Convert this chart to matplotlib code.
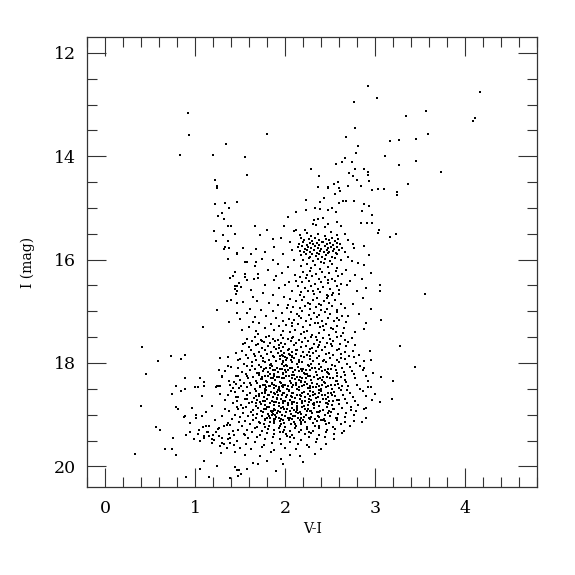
import matplotlib
matplotlib.use("Agg")
import matplotlib.pyplot as plt
from matplotlib.ticker import MultipleLocator
import numpy as np

# ---------------- data ----------------
bright_stars = [
    (0.92,13.17),(0.93,13.59),(1.34,13.77),(0.83,13.97),(1.20,13.97),(1.22,14.46),(1.24,14.58),
    (2.92,12.65),(3.02,12.87),(2.76,12.96),(2.78,13.45),(1.80,13.57),(2.68,13.62),(2.81,13.81),
    (2.79,13.94),(3.11,13.99),(1.55,14.01),(2.67,14.04),(2.63,14.11),(2.74,14.11),(2.56,14.15),
    (2.29,14.25),(2.78,14.24),(2.88,14.25),(2.92,14.30),(2.71,14.33),(2.75,14.38),(1.57,14.36),
    (2.37,14.39),(2.92,14.37),(2.80,14.46),(2.93,14.48),(2.59,14.50),(2.54,14.53),(2.70,14.57),
    (2.84,14.57),(2.47,14.59),(2.36,14.59),
    (4.17,12.76),(3.56,13.13),(3.34,13.22),(4.11,13.26),(4.09,13.31),(3.59,13.57),(3.45,13.66),
    (3.26,13.68),(3.16,13.71),(3.45,14.09),(3.27,14.17),(3.73,14.30),(3.36,14.53),(3.24,14.69),
    (3.24,14.75),(3.23,15.51),(3.16,15.56),(3.55,16.67),(3.28,17.67),(3.44,18.07),(3.20,18.35),
    (3.19,18.70),(3.05,16.49),(3.05,16.60),(3.07,17.16),(2.90,17.22),
]

blue_plume = [
    (1.24,14.61),(1.22,14.92),(1.33,14.90),(1.46,14.89),(1.37,15.01),(1.30,15.09),(1.25,15.16),
    (1.32,15.22),(1.36,15.34),(1.40,15.34),(1.21,15.44),(1.31,15.53),(1.44,15.50),(1.23,15.64),
    (1.36,15.64),(1.33,15.75),(1.37,15.77),(1.32,15.80),(1.46,15.87),(1.46,15.90),(1.36,15.98),
    (1.44,16.24),(1.42,16.31),(1.39,16.35),(1.44,16.51),(1.46,16.51),(1.44,16.57),(1.46,16.61),
    (1.45,16.67),(1.40,16.78),(1.35,16.81),(1.46,16.84),(1.24,16.98),(1.46,17.03),(1.37,17.20),
    (1.09,17.31),
    (1.53,15.78),(1.55,16.04),(1.57,16.05),(1.66,16.12),(1.55,16.28),(1.55,16.33),(1.65,16.37),
    (1.70,16.28),(1.49,16.46),(1.51,16.53),(1.62,16.59),(1.53,16.82),(1.64,16.72),(1.58,17.04),
    (1.50,17.14),(1.66,17.11),(1.60,17.30),(1.52,17.37),(1.70,17.43),
]

giant_branch = [
    (2.36,14.60),(2.47,14.62),(2.60,14.61),(2.55,14.73),(2.61,14.67),(2.96,14.66),(3.03,14.63),
    (3.10,14.63),(2.23,14.85),(2.39,14.89),(2.43,14.80),(2.60,14.91),(2.64,14.87),(2.68,14.87),
    (2.77,14.87),(2.33,15.01),(2.39,15.02),(2.47,15.04),(2.52,15.01),(2.56,15.08),(2.23,15.04),
    (2.12,15.08),(2.03,15.18),(2.88,14.93),(2.93,14.96),(2.85,15.06),(2.97,15.14),(1.66,15.35),
    (1.99,15.35),(2.32,15.24),(2.36,15.22),(2.42,15.20),(2.31,15.31),(2.34,15.33),(2.44,15.37),
    (2.47,15.31),(2.57,15.28),(2.62,15.35),(2.84,15.29),(2.91,15.30),(2.96,15.30),(3.04,15.43),
    (3.03,15.48),(1.86,15.60),(1.67,15.79),(1.78,15.86),(1.86,16.00),(2.70,15.62),(2.75,15.70),
    (2.77,15.78),(2.88,15.74),(2.81,16.06),(2.88,16.11),(2.95,16.26),(2.12,15.43),(2.22,15.42),
    (2.66,15.85),(2.70,15.95),(2.74,16.02),(2.68,16.20),(2.78,16.30),(2.72,16.42),(2.85,16.38),
    (2.90,16.55),(2.80,16.60),(2.69,16.50),(2.93,15.92),(2.86,16.75),(2.75,16.85),(2.95,16.95),
    (2.82,17.05),(2.70,17.10),(2.88,17.35),(2.78,17.40),
    (1.72,15.52),(1.95,15.58),(2.05,15.65),(1.88,15.75),(2.08,15.82),(1.98,15.90),(1.74,15.98),
    (2.10,16.00),(1.92,16.08),(2.03,16.15),(1.81,16.20),(1.96,16.25),(2.11,16.30),(1.70,16.35),
    (1.87,16.40),(2.04,16.44),(1.78,16.50),(1.93,16.55),(2.08,16.60),(1.75,16.65),(1.86,16.68),
    (1.99,16.72),(2.05,16.77),(1.69,16.80),(1.82,16.84),(1.92,16.88),(2.02,16.93),(1.73,16.97),
    (1.86,17.00),(1.96,17.04),(1.79,17.09),(1.90,17.12),(1.98,17.18),(1.71,17.22),(1.84,17.25),
    (1.93,17.29),(1.77,17.33),(1.88,17.37),(1.95,17.45),(1.82,17.47),(1.64,17.20),(1.61,16.95),
    (1.58,16.40),(1.68,16.05),(1.80,15.42),(2.10,15.45),(1.62,15.90),(1.90,16.32),(2.00,16.50),
    (1.67,17.38),
]

red_clump = [
    (2.16,15.52),(2.24,15.48),(2.29,15.55),(2.36,15.50),(2.44,15.54),(2.51,15.47),(2.58,15.53),(2.66,15.50),
    (2.18,15.59),(2.21,15.63),(2.26,15.60),(2.30,15.64),(2.33,15.58),(2.38,15.62),(2.41,15.65),
    (2.45,15.60),(2.49,15.63),(2.52,15.59),(2.55,15.64),(2.59,15.61),
    (2.15,15.69),(2.20,15.66),(2.24,15.71),(2.27,15.67),(2.31,15.70),(2.35,15.68),(2.37,15.72),
    (2.42,15.66),(2.46,15.70),(2.50,15.67),(2.53,15.71),(2.57,15.68),(2.61,15.70),
    (2.14,15.76),(2.19,15.74),(2.22,15.79),(2.25,15.75),(2.29,15.78),(2.33,15.73),(2.36,15.77),
    (2.40,15.80),(2.44,15.74),(2.47,15.78),(2.51,15.75),(2.54,15.79),(2.58,15.76),(2.63,15.78),
    (2.16,15.83),(2.21,15.86),(2.24,15.81),(2.28,15.85),(2.32,15.82),(2.35,15.87),(2.39,15.83),
    (2.43,15.86),(2.46,15.81),(2.49,15.85),(2.53,15.83),(2.56,15.87),(2.60,15.82),
    (2.17,15.91),(2.23,15.89),(2.27,15.94),(2.30,15.90),(2.34,15.93),(2.38,15.89),(2.41,15.95),
    (2.45,15.91),(2.48,15.88),(2.52,15.94),(2.57,15.90),
    (2.20,16.00),(2.26,15.97),(2.31,16.03),(2.36,15.99),(2.40,16.04),(2.44,15.98),(2.50,16.02),
    (2.55,15.97),(2.62,16.01),
    (2.18,16.12),(2.24,16.08),(2.29,16.16),(2.33,16.10),(2.39,16.18),(2.43,16.07),(2.47,16.14),
    (2.52,16.09),(2.58,16.17),
]

lower_giants = [
    (2.20,16.24),(2.27,16.22),(2.34,16.27),(2.41,16.23),(2.49,16.26),(2.56,16.22),(2.63,16.28),
    (2.16,16.33),(2.23,16.36),(2.30,16.31),(2.37,16.38),(2.44,16.34),(2.52,16.37),(2.59,16.32),
    (2.19,16.44),(2.26,16.41),(2.33,16.47),(2.40,16.43),(2.47,16.46),(2.55,16.42),(2.62,16.48),
    (2.14,16.52),(2.22,16.55),(2.29,16.51),(2.36,16.57),(2.42,16.53),(2.50,16.56),(2.57,16.51),
    (2.18,16.63),(2.25,16.61),(2.32,16.66),(2.39,16.62),(2.46,16.68),(2.53,16.64),(2.60,16.67),
    (2.21,16.72),(2.35,16.74),(2.48,16.71),
    (2.12,16.80),(2.19,16.78),(2.25,16.83),(2.31,16.79),(2.37,16.85),(2.43,16.81),(2.49,16.84),
    (2.55,16.79),(2.62,16.86),
    (2.09,16.91),(2.16,16.94),(2.22,16.89),(2.28,16.96),(2.34,16.92),(2.40,16.88),(2.46,16.95),
    (2.52,16.90),(2.58,16.97),(2.66,16.93),
    (2.06,17.02),(2.13,17.05),(2.19,17.00),(2.26,17.07),(2.32,17.03),(2.38,17.08),(2.44,17.01),
    (2.50,17.06),(2.57,17.02),(2.63,17.09),
    (2.04,17.14),(2.10,17.17),(2.17,17.12),(2.23,17.19),(2.29,17.15),(2.35,17.11),(2.41,17.18),
    (2.47,17.13),(2.54,17.19),(2.60,17.16),(2.68,17.21),
    (2.01,17.26),(2.08,17.29),(2.14,17.24),(2.20,17.31),(2.27,17.27),(2.33,17.23),(2.39,17.30),
    (2.45,17.25),(2.51,17.32),(2.58,17.28),(2.65,17.33),
    (1.98,17.38),(2.05,17.41),(2.11,17.36),(2.18,17.44),(2.24,17.39),(2.30,17.46),(2.37,17.42),
    (2.43,17.37),(2.49,17.45),(2.56,17.40),(2.62,17.47),
    (2.27,16.86),(2.46,16.75),(2.15,17.09),(2.36,17.22),(2.53,17.35),(2.21,17.40),(2.40,16.98),
    (2.58,17.12),(2.31,16.60),(2.47,16.40),(2.24,16.30),(2.60,16.58),(2.12,16.42),(2.08,17.22),
    (2.34,17.49),(2.03,16.87),(2.52,16.69),(2.16,16.68),(2.42,17.29),(2.64,17.42),
]

faint_left = [
    (0.41,17.69),(0.73,17.87),(0.89,17.84),(0.84,17.93),(0.59,17.96),(1.27,17.91),(1.36,17.89),
    (0.45,18.21),(0.89,18.30),(1.05,18.29),(1.10,18.36),(1.00,18.46),(1.03,18.47),(1.10,18.45),
    (0.79,18.45),(0.88,18.50),(0.84,18.54),(0.74,18.60),(1.07,18.63),(1.24,18.44),(1.26,18.45),
    (1.28,18.44),(1.23,18.47),(1.30,18.25),(1.30,18.28),(1.26,18.13),(1.39,18.42),(1.43,18.37),
    (0.40,18.84),(0.79,18.85),(0.81,18.90),(0.96,18.88),(0.89,19.02),(0.87,19.05),(1.01,19.00),
    (1.01,19.06),(1.07,19.03),(1.12,18.95),(1.18,18.83),(0.56,19.23),(0.61,19.29),(0.94,19.17),
    (0.90,19.39),(0.94,19.34),(0.98,19.48),(1.03,19.37),(1.04,19.30),(0.75,19.45),(0.66,19.66),
    (0.74,19.67),(0.78,19.79),(0.33,19.77),(1.10,19.89),(1.29,19.75),(1.44,19.72),(1.24,19.99),
    (1.05,20.05),(1.44,20.02),(1.46,20.07),(0.90,20.20),(1.15,20.20),(1.39,20.22),
    (1.08,19.23),(1.12,19.22),(1.10,19.42),(1.15,19.41),(1.18,19.48),(1.21,19.49),(1.26,19.42),
    (1.30,19.55),(1.32,19.57),(1.36,19.48),(1.39,19.45),(1.43,19.40),(1.26,19.25),(1.32,19.22),
    (1.36,19.16),(1.39,19.20),(1.23,19.33),(1.14,19.33),
    (1.27,18.60),(1.33,18.72),(1.40,18.55),(1.45,18.66),(1.22,19.10),(1.30,19.02),(1.38,18.92),
    (1.44,19.00),(1.15,19.22),(1.25,19.27),(1.35,19.20),(1.42,19.32),(1.20,19.40),(1.30,19.45),
    (1.38,19.38),(1.46,19.50),(1.27,19.60),(1.35,19.65),(1.43,19.58),(1.10,19.45),(1.18,19.55),
    (1.45,18.25),(1.40,18.08),(1.33,18.15),(1.46,18.85),(1.13,19.33),(1.05,19.50),
    (1.57,18.70),(1.42,18.78),(1.36,18.62),(1.51,18.45),(1.38,18.35),(1.33,18.90),(1.49,19.15),
    (1.41,19.08),(1.55,19.40),(1.48,19.30),(1.53,18.88),(1.42,18.48),(1.58,18.25),(1.36,18.05),
    (1.48,17.95),(1.60,17.70),(1.45,17.80),(1.53,17.63),(1.39,19.55),(1.50,19.65),
]

main_blob = [
    (1.58,17.54),(1.66,17.50),(1.73,17.55),(1.79,17.49),(1.86,17.53),(1.92,17.56),(1.97,17.51),(2.03,17.54),(2.09,17.49),(2.15,17.55),(2.22,17.52),(2.29,17.50),(2.35,17.56),(2.42,17.51),(2.50,17.54),(2.58,17.49),(2.67,17.55),(2.74,17.52),
    (1.55,17.61),(1.63,17.58),(1.70,17.63),(1.76,17.59),(1.83,17.62),(1.89,17.57),(1.95,17.61),(2.00,17.64),(2.06,17.58),(2.12,17.62),(2.19,17.60),(2.25,17.57),(2.32,17.63),(2.39,17.59),(2.46,17.61),(2.53,17.58),(2.61,17.64),(2.70,17.60),
    (1.60,17.69),(1.68,17.66),(1.74,17.71),(1.81,17.67),(1.87,17.70),(1.93,17.65),(1.98,17.69),(2.04,17.72),(2.10,17.66),(2.17,17.70),(2.23,17.67),(2.30,17.71),(2.37,17.65),(2.44,17.69),(2.52,17.67),(2.60,17.72),(2.68,17.68),(2.78,17.66),
    (1.52,17.77),(1.62,17.74),(1.71,17.79),(1.78,17.75),(1.84,17.78),(1.90,17.73),(1.95,17.77),(1.99,17.80),(2.03,17.74),(2.08,17.78),(2.13,17.75),(2.20,17.79),(2.27,17.73),(2.34,17.77),(2.41,17.75),(2.49,17.80),(2.57,17.74),(2.66,17.78),(2.75,17.76),
    (1.56,17.85),(1.65,17.82),(1.73,17.87),(1.80,17.83),(1.86,17.86),(1.92,17.81),(1.96,17.85),(2.00,17.88),(2.04,17.83),(2.08,17.86),(2.12,17.82),(2.17,17.87),(2.24,17.84),(2.31,17.81),(2.38,17.86),(2.45,17.83),(2.53,17.85),(2.62,17.82),(2.71,17.87),(2.82,17.84),
    (1.50,17.93),(1.59,17.90),(1.68,17.95),(1.75,17.91),(1.82,17.94),(1.88,17.89),(1.94,17.93),(1.98,17.96),(2.02,17.90),(2.06,17.94),(2.10,17.91),(2.15,17.95),(2.21,17.89),(2.28,17.93),(2.35,17.91),(2.42,17.96),(2.50,17.90),(2.58,17.94),(2.67,17.92),(2.76,17.89),
    (1.54,18.01),(1.63,17.98),(1.71,18.03),(1.78,17.99),(1.84,18.02),(1.90,17.97),(1.96,18.01),(2.01,18.04),(2.07,17.98),(2.13,18.02),(2.19,17.99),(2.25,18.03),(2.31,17.97),(2.38,18.01),(2.45,17.99),(2.52,18.04),(2.60,17.98),(2.69,18.02),(2.79,18.00),(2.88,17.97),
    (1.48,18.09),(1.57,18.06),(1.66,18.11),(1.73,18.07),(1.79,18.10),(1.85,18.05),(1.91,18.09),(1.96,18.12),(2.02,18.06),(2.08,18.10),(2.14,18.07),(2.20,18.11),(2.26,18.05),(2.33,18.09),(2.40,18.07),(2.47,18.12),(2.55,18.06),(2.63,18.10),(2.72,18.08),(2.83,18.05),
    (1.52,18.17),(1.61,18.14),(1.69,18.19),(1.75,18.15),(1.81,18.18),(1.86,18.13),(1.92,18.17),(1.97,18.20),(2.03,18.14),(2.09,18.18),(2.15,18.15),(2.21,18.19),(2.27,18.13),(2.34,18.17),(2.41,18.15),(2.48,18.20),(2.56,18.14),(2.65,18.18),(2.74,18.16),(2.86,18.13),
    (1.47,18.25),(1.56,18.22),(1.64,18.27),(1.71,18.23),(1.77,18.26),(1.83,18.21),(1.88,18.25),(1.93,18.28),(1.98,18.22),(2.04,18.26),(2.10,18.23),(2.16,18.27),(2.22,18.21),(2.28,18.25),(2.35,18.23),(2.42,18.28),(2.49,18.22),(2.57,18.26),(2.66,18.24),(2.77,18.21),(2.90,18.25),
    (1.50,18.33),(1.59,18.30),(1.67,18.35),(1.73,18.31),(1.79,18.34),(1.84,18.29),(1.89,18.33),(1.94,18.36),(1.99,18.30),(2.05,18.34),(2.11,18.31),(2.17,18.35),(2.23,18.29),(2.29,18.33),(2.36,18.31),(2.43,18.36),(2.50,18.30),(2.58,18.34),(2.67,18.32),(2.78,18.29),(2.92,18.34),
    (1.45,18.41),(1.54,18.38),(1.62,18.43),(1.69,18.39),(1.75,18.42),(1.80,18.37),(1.85,18.41),(1.90,18.44),(1.95,18.38),(2.00,18.42),(2.06,18.39),(2.12,18.43),(2.18,18.37),(2.24,18.41),(2.30,18.39),(2.37,18.44),(2.44,18.38),(2.51,18.42),(2.59,18.40),(2.68,18.37),(2.80,18.42),
    (1.49,18.49),(1.58,18.46),(1.66,18.51),(1.72,18.47),(1.77,18.50),(1.82,18.45),(1.87,18.49),(1.92,18.52),(1.97,18.46),(2.02,18.50),(2.07,18.47),(2.13,18.51),(2.19,18.45),(2.25,18.49),(2.31,18.47),(2.38,18.52),(2.45,18.46),(2.52,18.50),(2.60,18.48),(2.70,18.45),(2.83,18.50),(2.95,18.47),
    (1.44,18.57),(1.53,18.54),(1.61,18.59),(1.68,18.55),(1.74,18.58),(1.79,18.53),(1.84,18.57),(1.89,18.60),(1.94,18.54),(1.99,18.58),(2.04,18.55),(2.09,18.59),(2.15,18.53),(2.21,18.57),(2.27,18.55),(2.33,18.60),(2.40,18.54),(2.47,18.58),(2.54,18.56),(2.62,18.53),(2.72,18.58),(2.86,18.55),
    (1.48,18.65),(1.57,18.62),(1.65,18.67),(1.71,18.63),(1.76,18.66),(1.81,18.61),(1.86,18.65),(1.91,18.68),(1.96,18.62),(2.01,18.66),(2.06,18.63),(2.11,18.67),(2.16,18.61),(2.22,18.65),(2.28,18.63),(2.34,18.68),(2.41,18.62),(2.48,18.66),(2.55,18.64),(2.64,18.61),(2.75,18.66),(2.90,18.63),
    (1.46,18.73),(1.55,18.70),(1.63,18.75),(1.69,18.71),(1.75,18.74),(1.80,18.69),(1.85,18.73),(1.90,18.76),(1.95,18.70),(2.00,18.74),(2.05,18.71),(2.10,18.75),(2.16,18.69),(2.22,18.73),(2.29,18.71),(2.35,18.76),(2.42,18.70),(2.49,18.74),(2.57,18.72),(2.66,18.69),(2.78,18.74),(2.97,18.71),
    (1.51,18.81),(1.60,18.78),(1.67,18.83),(1.73,18.79),(1.78,18.82),(1.83,18.77),(1.88,18.81),(1.93,18.84),(1.98,18.78),(2.03,18.82),(2.08,18.79),(2.13,18.83),(2.19,18.77),(2.25,18.81),(2.31,18.79),(2.38,18.84),(2.45,18.78),(2.52,18.82),(2.60,18.80),(2.69,18.77),(2.81,18.82),
    (1.47,18.89),(1.56,18.86),(1.64,18.91),(1.70,18.87),(1.76,18.90),(1.82,18.85),(1.87,18.89),(1.92,18.92),(1.97,18.86),(2.02,18.90),(2.07,18.87),(2.13,18.91),(2.19,18.85),(2.25,18.89),(2.32,18.87),(2.39,18.92),(2.46,18.86),(2.54,18.90),(2.63,18.88),(2.73,18.85),(2.88,18.90),
    (1.53,18.97),(1.62,18.94),(1.69,18.99),(1.75,18.95),(1.81,18.98),(1.86,18.93),(1.91,18.97),(1.96,19.00),(2.01,18.94),(2.06,18.98),(2.12,18.95),(2.18,18.99),(2.24,18.93),(2.30,18.97),(2.37,18.95),(2.44,19.00),(2.51,18.94),(2.59,18.98),(2.68,18.96),(2.79,18.93),
    (1.50,19.05),(1.59,19.02),(1.67,19.07),(1.74,19.03),(1.80,19.06),(1.85,19.01),(1.90,19.05),(1.95,19.08),(2.00,19.02),(2.05,19.06),(2.11,19.03),(2.17,19.07),(2.23,19.01),(2.29,19.05),(2.36,19.03),(2.43,19.08),(2.50,19.02),(2.58,19.06),(2.67,19.04),(2.76,19.01),(2.90,19.06),
    (1.55,19.13),(1.64,19.10),(1.71,19.15),(1.77,19.11),(1.83,19.14),(1.89,19.09),(1.94,19.13),(1.99,19.16),(2.04,19.10),(2.10,19.14),(2.16,19.11),(2.22,19.15),(2.28,19.09),(2.35,19.13),(2.42,19.11),(2.49,19.16),(2.57,19.10),(2.66,19.14),(2.77,19.12),
    (1.52,19.21),(1.61,19.18),(1.69,19.23),(1.76,19.19),(1.82,19.22),(1.88,19.17),(1.94,19.21),(2.00,19.24),(2.06,19.18),(2.12,19.22),(2.18,19.19),(2.24,19.23),(2.31,19.17),(2.38,19.21),(2.45,19.19),(2.53,19.24),(2.62,19.18),(2.72,19.22),
    (1.57,19.29),(1.66,19.26),(1.74,19.31),(1.81,19.27),(1.87,19.30),(1.93,19.25),(1.99,19.29),(2.05,19.32),(2.11,19.26),(2.17,19.30),(2.24,19.27),(2.31,19.31),(2.38,19.25),(2.46,19.29),(2.55,19.27),(2.65,19.32),
    (1.54,19.37),(1.63,19.34),(1.72,19.39),(1.80,19.35),(1.87,19.38),(1.94,19.33),(2.01,19.37),(2.08,19.40),(2.15,19.34),(2.22,19.38),(2.29,19.35),(2.37,19.39),(2.45,19.33),(2.54,19.37),(2.63,19.35),
    (1.59,19.46),(1.69,19.43),(1.78,19.48),(1.86,19.44),(1.94,19.47),(2.02,19.42),(2.10,19.46),(2.18,19.49),(2.26,19.43),(2.35,19.47),(2.44,19.44),(2.54,19.48),
    (1.56,19.56),(1.66,19.53),(1.76,19.58),(1.85,19.54),(1.95,19.57),(2.05,19.52),(2.14,19.56),(2.24,19.59),(2.34,19.53),(2.45,19.57),
    (1.62,19.66),(1.74,19.63),(1.88,19.68),(2.00,19.64),(2.12,19.67),(2.26,19.62),(2.40,19.66),
    (1.55,19.78),(1.72,19.80),(1.84,19.72),(2.05,19.78),(2.16,19.80),(2.33,19.76),
    (1.64,19.93),(1.80,19.90),(1.97,19.95),(2.20,19.91),(1.70,19.96),(1.95,19.85),
    (1.49,20.07),(1.58,20.05),(1.90,20.09),(1.51,20.14),(1.47,20.18),
    (2.94,17.76),(2.88,18.09),(3.07,18.28),(2.92,18.46),(2.90,18.88),(2.77,19.01),(3.00,18.60),
    (2.98,18.20),(3.05,18.75),(2.85,19.15),(2.95,17.95),
]

blob_core = [
    (1.76,18.12),(1.83,18.10),(1.89,18.13),(1.94,18.11),(2.00,18.14),(2.05,18.10),(2.11,18.13),(2.17,18.11),(2.23,18.14),(2.30,18.10),(2.37,18.12),(2.44,18.14),(2.51,18.11),
    (1.74,18.28),(1.81,18.26),(1.86,18.29),(1.91,18.27),(1.96,18.30),(2.01,18.26),(2.07,18.29),(2.13,18.27),(2.19,18.30),(2.25,18.26),(2.32,18.28),(2.39,18.30),(2.46,18.27),(2.53,18.29),
    (1.72,18.44),(1.78,18.42),(1.83,18.45),(1.88,18.43),(1.93,18.46),(1.98,18.42),(2.03,18.45),(2.09,18.43),(2.15,18.46),(2.21,18.42),(2.27,18.44),(2.34,18.46),(2.41,18.43),(2.48,18.45),(2.55,18.42),
    (1.71,18.60),(1.77,18.58),(1.82,18.61),(1.87,18.59),(1.92,18.62),(1.97,18.58),(2.02,18.61),(2.07,18.59),(2.13,18.62),(2.19,18.58),(2.25,18.60),(2.31,18.62),(2.37,18.59),(2.44,18.61),(2.51,18.58),
    (1.72,18.76),(1.78,18.74),(1.83,18.77),(1.88,18.75),(1.93,18.78),(1.98,18.74),(2.03,18.77),(2.08,18.75),(2.13,18.78),(2.19,18.74),(2.26,18.76),(2.32,18.78),(2.39,18.75),(2.46,18.77),(2.53,18.74),
    (1.73,18.92),(1.79,18.90),(1.84,18.93),(1.89,18.91),(1.94,18.94),(1.99,18.90),(2.05,18.93),(2.10,18.91),(2.16,18.94),(2.22,18.90),(2.28,18.92),(2.35,18.94),(2.42,18.91),(2.49,18.93),
    (1.77,19.08),(1.83,19.06),(1.88,19.09),(1.93,19.07),(1.98,19.10),(2.03,19.06),(2.08,19.09),(2.14,19.07),(2.20,19.10),(2.26,19.06),(2.33,19.08),(2.40,19.10),
    (1.97,17.86),(2.02,17.91),(2.05,17.85),(1.99,17.80),(2.07,17.89),(2.01,17.95),(1.94,17.87),
    (1.63,18.05),(1.87,18.21),(2.29,18.02),(2.46,18.18),(2.12,18.38),(1.79,18.47),(2.56,18.35),
    (2.04,18.52),(1.68,18.63),(2.38,18.58),(1.91,18.70),(2.21,18.83),(2.60,18.71),(1.85,18.94),
    (2.09,19.03),(2.47,18.97),(1.72,19.17),(2.33,19.21),(1.98,19.33),(2.19,18.16),
    (1.83,18.03),(2.15,17.98),(2.43,17.94),(1.66,17.87),(1.93,17.71),(2.26,17.78),(2.51,17.64),
    (1.74,17.58),(2.08,17.52),(2.36,17.69),
    (1.61,18.39),(1.74,18.31),(1.96,18.44),(2.27,18.49),(2.41,18.33),(2.63,18.44),(2.08,18.66),
    (2.26,18.69),(1.80,18.85),(1.95,18.87),(2.14,18.96),(2.32,18.81),(2.53,18.89),(1.64,19.01),
    (1.87,19.13),(2.11,19.19),(2.44,19.13),(1.78,19.24),(2.26,19.34),(2.05,19.44),
    (1.71,18.20),(2.01,18.18),(2.24,18.22),(2.35,18.40),(1.91,18.57),(2.17,18.64),(2.45,18.69),
    (2.03,18.79),(2.29,18.92),(1.68,18.78),(1.89,19.00),(2.21,19.05),(2.56,19.06),(1.95,19.18),
    (2.38,19.04),(2.15,18.33),(1.85,18.39),(2.52,18.61),(2.69,18.52),(2.73,18.91),
    (1.99,18.06),(2.22,18.37),(1.77,18.55),(2.36,18.66),(2.13,18.87),(1.86,18.98),(2.48,18.80),
    (2.62,18.27),(2.07,18.24),(1.93,18.50),(2.31,18.56),(2.17,19.14),(1.82,19.03),(2.40,18.50),
    (2.57,18.19),(1.98,17.98),(2.28,17.87),(1.75,17.96),(2.62,17.91),(2.12,17.74),
]

x_ticks = [0, 1, 2, 3, 4]
y_ticks = [12, 14, 16, 18, 20]
x_label = "V-I"
y_label = "I (mag)"

# ---------------- plotting ----------------
plt.rcParams['font.family'] = ['DejaVu Serif']

fig = plt.figure(figsize=(5.75, 5.75), dpi=100)
ax = fig.add_axes([0.152, 0.153, 0.782, 0.782])

groups = [bright_stars, blue_plume, giant_branch, red_clump, lower_giants,
          faint_left, main_blob, blob_core]
pts = np.array([p for g in groups for p in g])
ax.scatter(pts[:, 0], pts[:, 1], s=3.6, marker='s', c='black', linewidths=0)

ax.set_xlim(-0.2, 4.8)
ax.set_ylim(20.4, 11.7)

ax.set_xticks(x_ticks)
ax.set_yticks(y_ticks)
ax.xaxis.set_minor_locator(MultipleLocator(0.2))
ax.yaxis.set_minor_locator(MultipleLocator(0.5))

ax.tick_params(which='both', direction='in', top=True, right=True,
               width=0.8, color='#333333')
ax.tick_params(which='major', length=13.5)
ax.tick_params(which='minor', length=7)
ax.tick_params(axis='x', which='major', pad=9, labelsize=12.5)
ax.tick_params(axis='y', which='major', pad=8, labelsize=12.5)
for sp in ax.spines.values():
    sp.set_linewidth(0.9)
    sp.set_color('#333333')

ax.set_xlabel(x_label, fontsize=10, labelpad=4)
ax.set_ylabel(y_label, fontsize=10, labelpad=14)

fig.savefig("out.png", dpi=100)
